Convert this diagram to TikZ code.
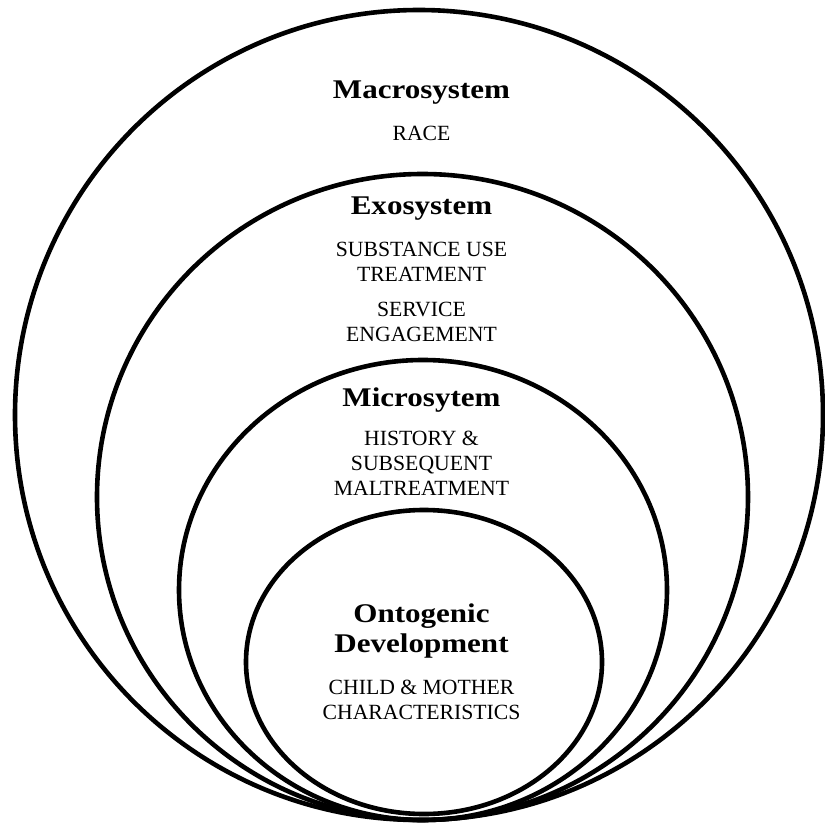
\documentclass[tikz,border=0pt]{standalone}
\usepackage{fontspec}
\setmainfont{Liberation Serif}
\newfontfamily\headfont[FakeStretch=1.15]{Liberation Serif}
\begin{document}
\begin{tikzpicture}[x=1pt,y=-1pt,
  ring/.style={line width=4.6pt, draw=black},
  head/.style={font=\headfont\fontsize{27}{30}\selectfont\bfseries, align=center, inner sep=0pt, anchor=center},
  body/.style={font=\fontsize{21.7}{25}\selectfont, align=center, inner sep=0pt, anchor=center}]
\useasboundingbox (0,0) rectangle (825,824);
\draw[ring] (419,415) ellipse [x radius=404, y radius=405];
\draw[ring] (422.5,497) ellipse [x radius=325.5, y radius=323];
\draw[ring] (423,590) ellipse [x radius=244, y radius=230];
\draw[ring] (424,662) ellipse [x radius=178, y radius=152];
\node[head] (mac) at (421.5,93) {Macrosystem};
\node[body] (race) at (421.5,133) {RACE};
\node[head] (exo) at (421.5,209) {Exosystem};
\node[body] (sub) at (421.5,261.5) {SUBSTANCE USE\\TREATMENT};
\node[body] (serv) at (421.5,321.5) {SERVICE\\ENGAGEMENT};
\node[head] (mic) at (421.5,400) {Microsytem};
\node[body] (hist) at (421.5,463.5) {HISTORY \&\\SUBSEQUENT\\MALTREATMENT};
\node[head] (onto) at (421.5,631) {Ontogenic\\Development};
\node[body] (child) at (421.5,699.5) {CHILD \& MOTHER\\CHARACTERISTICS};
\end{tikzpicture}
\end{document}
